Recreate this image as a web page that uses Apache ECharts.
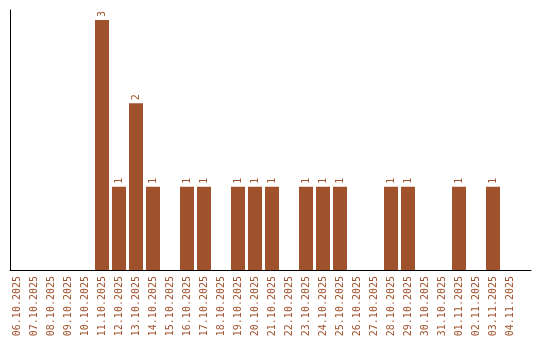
<!DOCTYPE html>
<html>
<head>
<meta charset="utf-8">
<script src="https://cdn.jsdelivr.net/npm/echarts@6/dist/echarts.min.js"></script>
<style>html,body{margin:0;padding:0;background:#fff}#c{width:540px;height:340px}</style>
</head>
<body>
<div id="c"></div>
<script>
var categories = ['06.10.2025','07.10.2025','08.10.2025','09.10.2025','10.10.2025','11.10.2025','12.10.2025','13.10.2025','14.10.2025','15.10.2025','16.10.2025','17.10.2025','18.10.2025','19.10.2025','20.10.2025','21.10.2025','22.10.2025','23.10.2025','24.10.2025','25.10.2025','26.10.2025','27.10.2025','28.10.2025','29.10.2025','30.10.2025','31.10.2025','01.11.2025','02.11.2025','03.11.2025','04.11.2025'];
var values = [0,0,0,0,0,3,1,2,1,0,1,1,0,1,1,1,0,1,1,1,0,0,1,1,0,0,1,0,1,0];
var yMax = 3.12;

var color = '#A0522D';
var font = 'DejaVu Sans Mono';
var chart = echarts.init(document.getElementById('c'), null, {renderer: 'canvas'});
chart.setOption({
  animation: false,
  backgroundColor: '#ffffff',
  grid: [
    {left: 10, top: 10, width: 521, height: 260},
    {left: 8.5, top: 10, width: 510, height: 260}
  ],
  xAxis: [
    {gridIndex: 0, type: 'value', min: 0, max: 1, axisLine: {show: true, lineStyle: {color: '#000', width: 1}},
     axisTick: {show: false}, axisLabel: {show: false}, splitLine: {show: false}},
    {gridIndex: 1, type: 'category', data: categories, boundaryGap: true,
     axisLine: {show: false}, axisTick: {show: false},
     axisLabel: {interval: 0, rotate: 90, color: color, fontFamily: font, fontSize: 10, margin: 6}}
  ],
  yAxis: [
    {gridIndex: 0, type: 'value', min: 0, max: yMax, axisLine: {show: true, lineStyle: {color: '#000', width: 1}},
     axisTick: {show: false}, axisLabel: {show: false}, splitLine: {show: false}},
    {gridIndex: 1, type: 'value', min: 0, max: yMax, show: false, splitLine: {show: false}}
  ],
  series: [{
    type: 'bar',
    xAxisIndex: 1,
    yAxisIndex: 1,
    data: values,
    barWidth: 14,
    itemStyle: {color: color},
    label: {
      show: true, position: 'top', rotate: 90, align: 'left', verticalAlign: 'middle',
      distance: 3, color: color, fontFamily: font, fontSize: 10,
      formatter: function (p) { return p.value ? String(p.value) : ''; }
    }
  }]
});
</script>
</body>
</html>
